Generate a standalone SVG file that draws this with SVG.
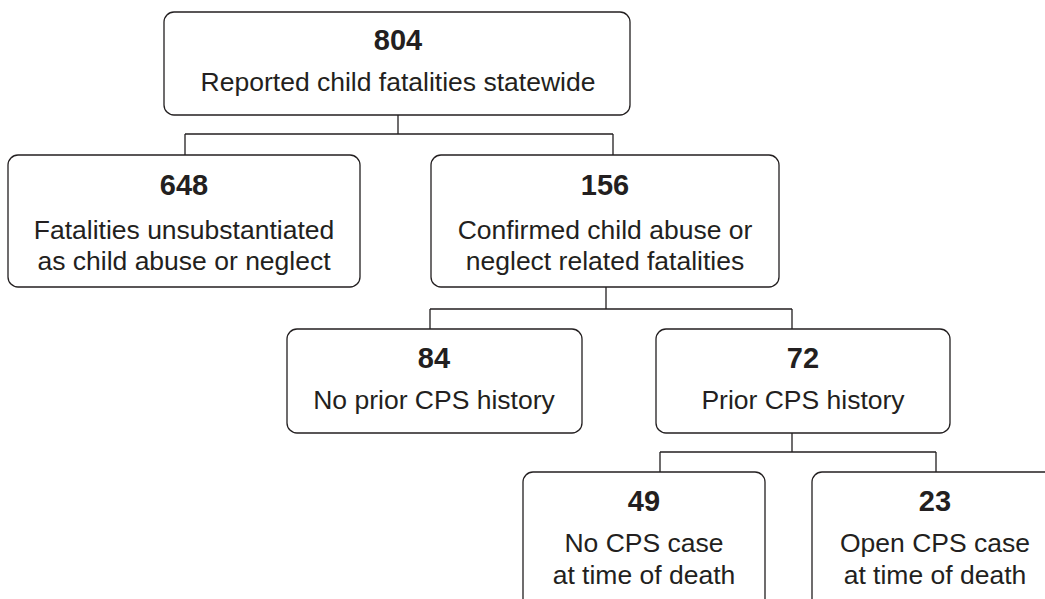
<svg xmlns="http://www.w3.org/2000/svg" width="1045" height="599" viewBox="0 0 1045 599">
<style>
.box{fill:#fff;stroke:#231f20;stroke-width:1.3}
.ln{fill:none;stroke:#231f20;stroke-width:1.3}
.num{font-family:"Liberation Sans",Arial,sans-serif;font-weight:bold;font-size:29px;fill:#231f20;text-anchor:middle}
.lbl{font-family:"Liberation Sans",Arial,sans-serif;font-size:26.5px;fill:#231f20;text-anchor:middle}
</style>
<rect width="1045" height="599" fill="#fff"/>
<g id="connectors">
<path class="ln" d="M398,115 V134 M185,134 H613 M185,134 V155 M613,134 V155"/>
<path class="ln" d="M606,287 V309 M430,309 H792 M430,309 V329 M792,309 V329"/>
<path class="ln" d="M792,433 V452 M660,452 H936 M660,452 V472 M936,452 V472"/>
</g>
<g id="n804">
<rect class="box" x="164" y="12" width="466" height="103" rx="10"/>
<text class="num" x="398" y="50">804</text>
<text class="lbl" x="398" y="91">Reported child fatalities statewide</text>
</g>
<g id="n648">
<rect class="box" x="8" y="155" width="352" height="132" rx="10"/>
<text class="num" x="184" y="195">648</text>
<text class="lbl" x="184" y="239">Fatalities unsubstantiated</text>
<text class="lbl" x="184" y="270">as child abuse or neglect</text>
</g>
<g id="n156">
<rect class="box" x="431" y="155" width="348" height="132" rx="10"/>
<text class="num" x="605" y="195">156</text>
<text class="lbl" x="605" y="239">Confirmed child abuse or</text>
<text class="lbl" x="605" y="270">neglect related fatalities</text>
</g>
<g id="n84">
<rect class="box" x="287" y="329" width="295" height="104" rx="10"/>
<text class="num" x="434" y="368">84</text>
<text class="lbl" x="434" y="409">No prior CPS history</text>
</g>
<g id="n72">
<rect class="box" x="656" y="329" width="294" height="104" rx="10"/>
<text class="num" x="803" y="368">72</text>
<text class="lbl" x="803" y="409">Prior CPS history</text>
</g>
<g id="n49">
<rect class="box" x="523" y="472" width="242" height="140" rx="10"/>
<text class="num" x="644" y="511">49</text>
<text class="lbl" x="644" y="552">No CPS case</text>
<text class="lbl" x="644" y="584">at time of death</text>
</g>
<g id="n23">
<rect class="box" x="812" y="472" width="250" height="140" rx="10"/>
<text class="num" x="935" y="511">23</text>
<text class="lbl" x="935" y="552">Open CPS case</text>
<text class="lbl" x="935" y="584">at time of death</text>
</g>
</svg>
